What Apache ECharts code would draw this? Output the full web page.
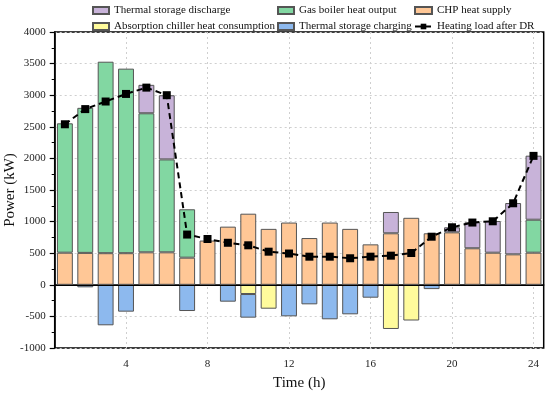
<!DOCTYPE html>
<html><head><meta charset="utf-8">
<script src="https://cdn.jsdelivr.net/npm/echarts@6/dist/echarts.min.js"></script>
<style>html,body{margin:0;padding:0;background:#fff}#c{width:550px;height:393px}</style>
</head><body><div id="c"></div>
<script>
const hours = ['1','2','3','4','5','6','7','8','9','10','11','12','13','14','15','16','17','18','19','20','21','22','23','24'];
const chpSupply = [508,505,500,500,514,514,429,700,920,1125,885,985,740,985,885,640,815,1060,815,830,578,508,482,508];
const gasBoiler = [2047,2295,3030,2920,2200,1470,766,null,null,null,null,null,null,null,null,null,null,null,null,null,null,null,null,522];
const storageDischarge = [null,null,null,null,450,1015,null,null,null,null,null,null,null,null,null,null,337,null,null,80,411,501,812,1013];
const chillerConsumption = [null,null,null,null,null,null,null,null,null,-146,-378,null,null,null,null,null,-699,-565,null,null,null,null,null,null];
const storageCharging = [null,-40,-641,-425,null,null,-415,null,-267,-374,null,-499,-309,-546,-467,-204,null,null,-68,null,null,null,null,null];
const heatingLoad = [2540,2780,2900,3020,3120,3000,795,725,665,625,524,495,445,445,420,445,461,503,761,910,985,1005,1290,2040];
const yTicks = {min:-1000, max:4000, step:500};

const FONT = '"Liberation Serif","Times New Roman",serif';
const border = {borderColor:'#555', borderWidth:1};
function barSeries(name, data, color, stack){
  return {name, type:'bar', stack, data, barWidth:'78%',
    itemStyle:Object.assign({color}, border)};
}
const chart = echarts.init(document.getElementById('c'), null, {renderer:'canvas'});
const legendBase = {orient:'vertical', top:5, itemWidth:16, itemHeight:7, itemGap:5,
  textStyle:{fontFamily:FONT, fontSize:11, color:'#111'}, padding:0};
chart.setOption({
  animation:false,
  grid:{left:54.7, right:6.3, top:32, bottom:45, outerBoundsMode:'none', containLabel:false,
    show:true, borderColor:'#000', borderWidth:1.5, backgroundColor:'transparent'},
  legend:[
    Object.assign({}, legendBase, {left:92, data:[{name:'Thermal storage discharge',icon:'rect'},{name:'Absorption chiller heat consumption',icon:'rect'}]}),
    Object.assign({}, legendBase, {left:277, data:[{name:'Gas boiler heat output',icon:'rect'},{name:'Thermal storage charging',icon:'rect'}]}),
    Object.assign({}, legendBase, {left:414, data:[{name:'CHP heat supply',icon:'rect'},{name:'Heating load after DR'}], itemWidth:17})
  ],
  xAxis:{type:'category', data:hours, boundaryGap:true,
    name:'Time (h)', nameLocation:'middle', nameGap:28, nameMoveOverlap:false,
    nameTextStyle:{fontFamily:FONT, fontSize:15, color:'#111'},
    axisLine:{lineStyle:{color:'#000', width:1.5}},
    axisTick:{alignWithLabel:true, interval:(i)=>i%2===1, length:4, lineStyle:{color:'#000', width:1.2}},
    axisLabel:{interval:(i)=>i%4===3, fontFamily:FONT, fontSize:11, color:'#222', margin:11},
    splitLine:{show:true, alignWithLabel:true, interval:(i)=>i%4===3, lineStyle:{color:'#cfcfcf', type:[2,3], width:1}}
  },
  yAxis:{type:'value', min:yTicks.min, max:yTicks.max, interval:yTicks.step,
    name:'Power (kW)', nameLocation:'middle', nameGap:37, nameMoveOverlap:false,
    nameTextStyle:{fontFamily:FONT, fontSize:15, color:'#111'},
    axisLine:{show:true, lineStyle:{color:'#000', width:1.5}},
    axisTick:{show:true, length:5, lineStyle:{color:'#000', width:1.2}},
    minorTick:{show:true, splitNumber:2, length:3, lineStyle:{color:'#000', width:1}},
    axisLabel:{fontFamily:FONT, fontSize:11, color:'#222', margin:9, formatter:(v)=>String(v)},
    splitLine:{show:true, lineStyle:{color:'#cfcfcf', type:[2,3], width:1}}
  },
  series:[
    Object.assign(barSeries('CHP heat supply', chpSupply, '#FFC796', 'a'), {
      markLine:{silent:true, symbol:'none', label:{show:false}, lineStyle:{color:'#000', type:'solid', width:1.2}, data:[{yAxis:0}]}
    }),
    barSeries('Gas boiler heat output', gasBoiler, '#82D7A2', 'a'),
    barSeries('Thermal storage discharge', storageDischarge, '#C8B3D9', 'a'),
    barSeries('Absorption chiller heat consumption', chillerConsumption, '#FFFB9C', 'a'),
    barSeries('Thermal storage charging', storageCharging, '#8DB9EE', 'a'),
    {name:'Heating load after DR', type:'line', data:heatingLoad, symbol:'rect', symbolSize:8,
      itemStyle:{color:'#000'}, lineStyle:{color:'#000', width:2, type:[6,4]}, z:5}
  ]
});
</script></body></html>
